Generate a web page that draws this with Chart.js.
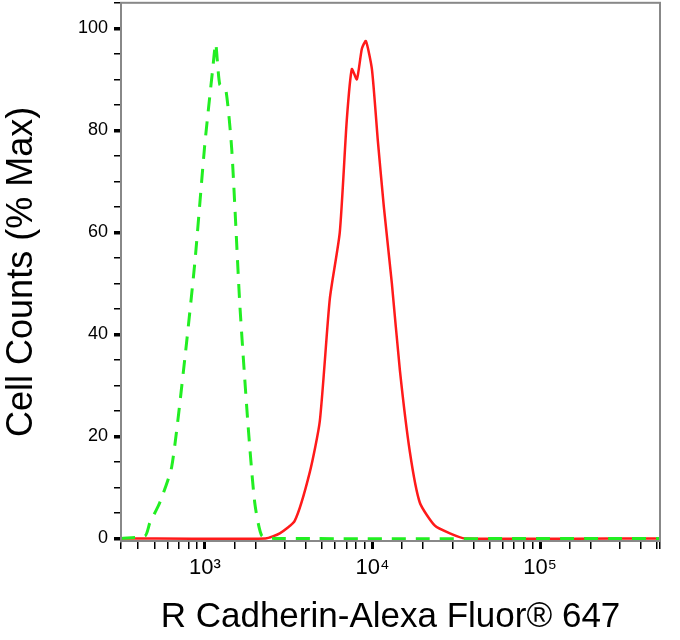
<!DOCTYPE html>
<html><head><meta charset="utf-8">
<script src="https://cdn.jsdelivr.net/npm/chart.js@4/dist/chart.umd.min.js"></script>
<style>html,body{margin:0;padding:0;background:#fff;overflow:hidden}#w{width:680px;height:654px;margin-top:-14px}</style>
</head><body><div id="w"><canvas id="c"></canvas></div>
<script>
const greenX = [316, 440, 469, 538, 634, 758, 871, 998, 1114, 1161, 1227, 1333, 1449, 1616, 1803, 1985, 2188, 2600, 520000];
const greenY = [0, 0.5, 3, 7, 14, 35, 54, 77, 92, 97, 89, 88, 76, 46, 23, 7, 0.5, 0, 0];
const redX = [316, 2300, 2800, 3443, 4230, 4853, 5570, 6385, 7030, 7535, 8075, 8650, 9140, 9930, 10770, 11700, 13060, 14580, 16720, 19190, 23590, 28980, 35620, 520000];
const redY = [0, 0, 1, 3.5, 13, 23, 47, 60, 82, 92, 90, 96, 97.5, 92, 78, 65, 50, 33, 17, 7, 2.5, 1, 0, 0];
const xTickLabels = {1000: '10³', 10000: '10⁴', 100000: '10⁵'};
const yTickLabels = [0, 20, 40, 60, 80, 100];

const pts = (xs, ys) => xs.map((x, i) => ({x, y: ys[i]}));
const frame = {id:'frame', afterDraw(ch){const a=ch.chartArea,c=ch.ctx;c.save();c.strokeStyle='#888';c.lineWidth=2;c.strokeRect(a.left,a.top,a.right-a.left,a.bottom-a.top);c.restore();}};
const isMajorX = v => xTickLabels[Math.round(v)] !== undefined;
new Chart(document.getElementById('c'), {
  type: 'line',
  data: { datasets: [
    { data: pts(greenX, greenY), borderColor: '#22ee22', borderWidth: 3, borderDash: [14, 10], pointRadius: 0, tension: 0.2 },
    { data: pts(redX, redY), borderColor: '#ff1a1a', borderWidth: 2.5, pointRadius: 0, tension: 0.2 }
  ]},
  plugins: [frame],
  options: {
    animation: false, responsive: true, maintainAspectRatio: false,
    layout: { padding: { top: 0, right: 20, left: 0, bottom: 0 } },
    plugins: { legend: { display: false }, tooltip: { enabled: false } },
    scales: {
      x: {
        type: 'logarithmic', min: 316, max: 520000,
        afterFit: s => { s.height = 99; },
        border: { color: '#888', width: 2 },
        grid: { drawOnChartArea: false, color: '#000', tickLength: 8,
          lineWidth: ctx => ctx.tick && isMajorX(ctx.tick.value) ? 3 : 1.5 },
        ticks: { autoSkip: false, maxRotation: 0, color: '#000', font: { family: 'Liberation Sans', size: 22 },
          padding: 6, callback: v => xTickLabels[Math.round(v)] || '' },
        title: { display: true, text: 'R Cadherin-Alexa Fluor® 647', color: '#000', font: { family: 'Liberation Sans', size: 35 }, padding: { top: 0, bottom: 2 } }
      },
      y: {
        min: -0.5, max: 105,
        afterFit: s => { s.width = 121; },
        afterBuildTicks: s => { const t=[]; for (let v=0; v<=105; v+=5) t.push({value:v}); s.ticks=t; },
        border: { color: '#888', width: 2 },
        grid: { drawOnChartArea: false, color: '#000', tickLength: 7,
          lineWidth: ctx => ctx.tick && yTickLabels.includes(ctx.tick.value) ? 3.5 : 1.5 },
        ticks: { autoSkip: false, color: '#000', font: { family: 'Liberation Sans', size: 18 }, padding: 6,
          callback: v => yTickLabels.includes(v) ? String(v) : '' },
        title: { display: true, text: 'Cell Counts (% Max)', color: '#000', font: { family: 'Liberation Sans', size: 36 }, padding: { top: 0, bottom: 6 } }
      }
    }
  }
});
</script></body></html>
